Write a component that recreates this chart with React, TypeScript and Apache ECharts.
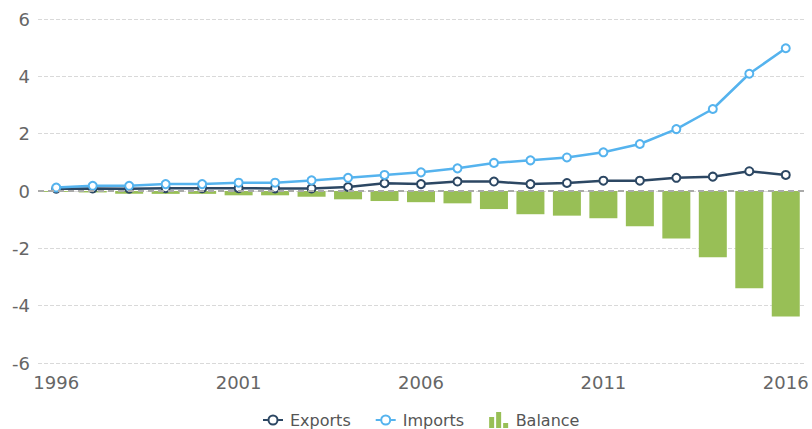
import React, { useEffect, useRef } from "react";
import * as echarts from "echarts";

const years = ["1996","1997","1998","1999","2000","2001","2002","2003","2004","2005","2006","2007","2008","2009","2010","2011","2012","2013","2014","2015","2016"];
const exportsData = [0.08,0.09,0.08,0.1,0.1,0.1,0.09,0.09,0.14,0.27,0.24,0.33,0.33,0.24,0.28,0.36,0.36,0.46,0.5,0.69,0.56];
const importsData = [0.12,0.18,0.18,0.24,0.24,0.29,0.29,0.37,0.46,0.56,0.65,0.79,0.98,1.07,1.17,1.35,1.64,2.16,2.86,4.09,4.98];
const balanceData = [-0.03,-0.05,-0.1,-0.1,-0.1,-0.15,-0.15,-0.2,-0.29,-0.35,-0.39,-0.43,-0.63,-0.81,-0.86,-0.95,-1.23,-1.66,-2.31,-3.39,-4.38];
const yTicks = { min: -6, max: 6, interval: 2 };

const FONT = "DejaVu Sans";
const EXP_COLOR = "#2c4763";
const IMP_COLOR = "#55b3ee";
const BAL_COLOR = "#98bf56";

const lineIcon =
  "path://M0,0h0.01v0.01h-0.01z M19.99,15.99h0.01v0.01h-0.01z " +
  "M4.5,8a5.5,5.5 0 1,0 11,0a5.5,5.5 0 1,0 -11,0z M6.5,8a3.5,3.5 0 1,1 7,0a3.5,3.5 0 1,1 -7,0z " +
  "M0,7h4.6v2h-4.6z M15.4,7h4.6v2h-4.6z";
const barIcon = "path://M0.5,5h5v11h-5z M7.5,0h5v16h-5z M14.5,11h5v5h-5z";

export default function App() {
  const ref = useRef<HTMLDivElement>(null);
  useEffect(() => {
    const chart = echarts.init(ref.current!, null, { renderer: "svg" });
    chart.setOption({
      animation: false,
      textStyle: { fontFamily: FONT },
      grid: { left: 38, right: 8, top: 19, bottom: 66, containLabel: false },
      legend: {
        top: 407,
        padding: 5,
        left: 258,
        itemGap: 25,
        itemWidth: 20,
        itemHeight: 16,
        textStyle: { fontFamily: FONT, fontSize: 16, color: "#555", padding: [0, 0, 0, 2] },
        data: [
          { name: "Exports", icon: lineIcon, itemStyle: { color: EXP_COLOR, borderWidth: 0 } },
          { name: "Imports", icon: lineIcon, itemStyle: { color: IMP_COLOR, borderWidth: 0 } },
          { name: "Balance", icon: barIcon, itemStyle: { color: BAL_COLOR, borderWidth: 0 } },
        ],
      },
      xAxis: {
        type: "category",
        data: years,
        boundaryGap: true,
        axisLine: { show: false },
        axisTick: { show: false },
        axisLabel: { interval: 4, fontSize: 18, color: "#666", margin: 10, fontFamily: FONT },
        splitLine: { show: false },
      },
      yAxis: {
        type: "value",
        min: yTicks.min,
        max: yTicks.max,
        interval: yTicks.interval,
        axisLine: { show: false },
        axisTick: { show: false },
        axisLabel: { fontSize: 18, color: "#666", margin: 8, fontFamily: FONT },
        splitLine: { lineStyle: { type: "dashed", color: "#d9d9d9", width: 1 } },
      },
      series: [
        {
          name: "Balance",
          type: "bar",
          data: balanceData,
          barWidth: 28,
          z: 1,
          itemStyle: { color: BAL_COLOR },
          markLine: {
            silent: true,
            symbol: "none",
            label: { show: false },
            lineStyle: { type: [6, 4], color: "#aaaaaa", width: 2 },
            data: [{ yAxis: 0 }],
          },
        },
        {
          name: "Exports",
          type: "line",
          data: exportsData,
          z: 3,
          symbol: "circle",
          symbolSize: 8,
          lineStyle: { color: EXP_COLOR, width: 2.5 },
          itemStyle: { color: "#fff", borderColor: EXP_COLOR, borderWidth: 2 },
        },
        {
          name: "Imports",
          type: "line",
          data: importsData,
          z: 4,
          symbol: "circle",
          symbolSize: 8,
          lineStyle: { color: IMP_COLOR, width: 2.5 },
          itemStyle: { color: "#fff", borderColor: IMP_COLOR, borderWidth: 2 },
        },
      ],
    });
    return () => chart.dispose();
  }, []);
  return <div ref={ref} style={{ width: 812, height: 429, position: "absolute", left: 0, top: 0 }} />;
}
